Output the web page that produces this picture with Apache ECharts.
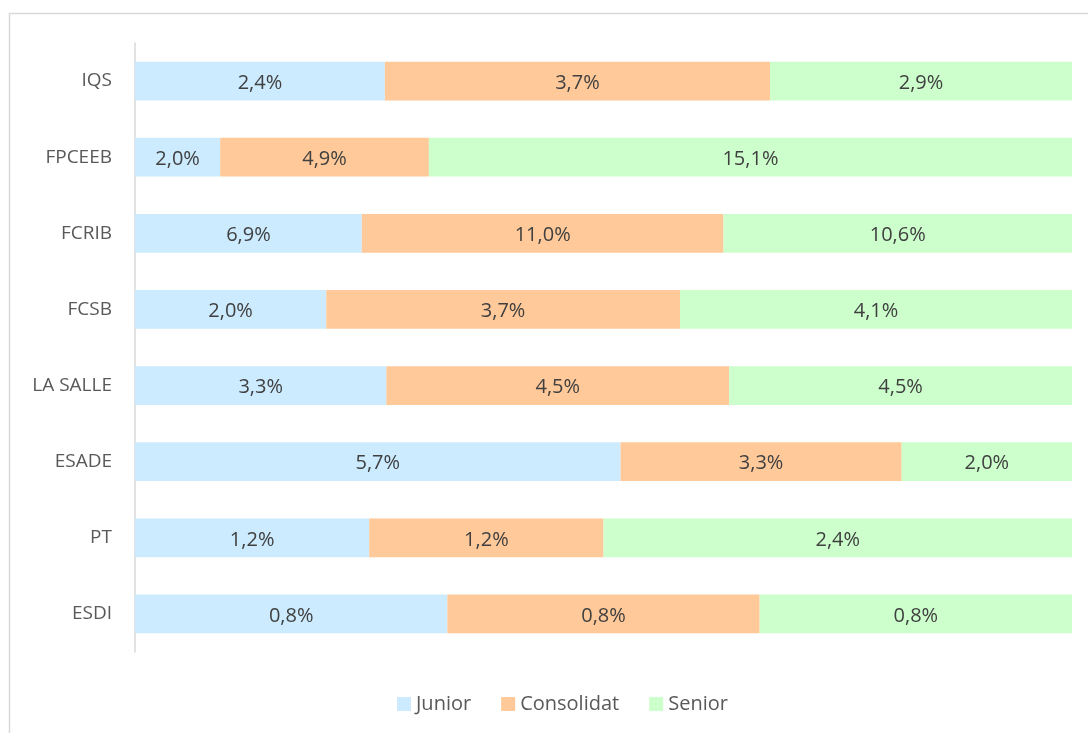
<!DOCTYPE html>
<html><head><meta charset="utf-8">
<script src="https://cdn.jsdelivr.net/npm/echarts@6/dist/echarts.min.js"></script>
<style>html,body{margin:0;padding:0;background:#fff}#c{width:1088px;height:733px}</style>
</head><body><div id="c"></div>
<script>
const categories = ['IQS','FPCEEB','FCRIB','FCSB','LA SALLE','ESADE','PT','ESDI'];
const junior = [2.4, 2.0, 6.9, 2.0, 3.3, 5.7, 1.2, 0.8];
const consolidat = [3.7, 4.9, 11.0, 3.7, 4.5, 3.3, 1.2, 0.8];
const senior = [2.9, 15.1, 10.6, 4.1, 4.5, 2.0, 2.4, 0.8];
const seriesNames = ['Junior','Consolidat','Senior'];
const colors = ['#CCEBFF','#FFC999','#CCFFCC'];

const all = [junior, consolidat, senior];
const totals = categories.map((_, i) => all.reduce((s, a) => s + a[i], 0));
const fmt = v => v.toFixed(1).replace('.', ',') + '%';
const FONT = 'Open Sans';

const chart = echarts.init(document.getElementById('c'));
chart.setOption({
  animation: false,
  textStyle: {fontFamily: FONT},
  graphic: [{type:'rect', shape:{x:9.5,y:13.5,width:1200,height:800}, style:{fill:'none', stroke:'#d9d9d9', lineWidth:1.5}, silent:true}],
  grid: {left:135, right:16, top:43, bottom:81, containLabel:false},
  legend: {
    bottom: 14, left: 392, itemWidth: 14, itemHeight: 14, itemGap: 30,
    icon: 'rect',
    textStyle: {fontFamily: FONT, fontSize: 20, color: '#595959'},
    data: seriesNames
  },
  xAxis: {type:'value', min:0, max:100, show:false},
  yAxis: {
    type:'category', data: categories, inverse: true,
    axisLine: {lineStyle:{color:'#d9d9d9', width:1.5}},
    axisTick: {show:false},
    axisLabel: {fontFamily: FONT, fontSize: 19, color:'#595959', margin: 23, padding:[3,0,0,0]}
  },
  series: all.map((arr, k) => ({
    name: seriesNames[k], type:'bar', stack:'s', barWidth:'51%',
    itemStyle: {color: colors[k]},
    data: arr.map((v, i) => v / totals[i] * 100),
    label: {show:true, position:'inside', offset:[0,2], fontFamily: FONT, fontSize: 20, color:'#404040',
      formatter: p => fmt(all[k][p.dataIndex])}
  }))
});
</script></body></html>
